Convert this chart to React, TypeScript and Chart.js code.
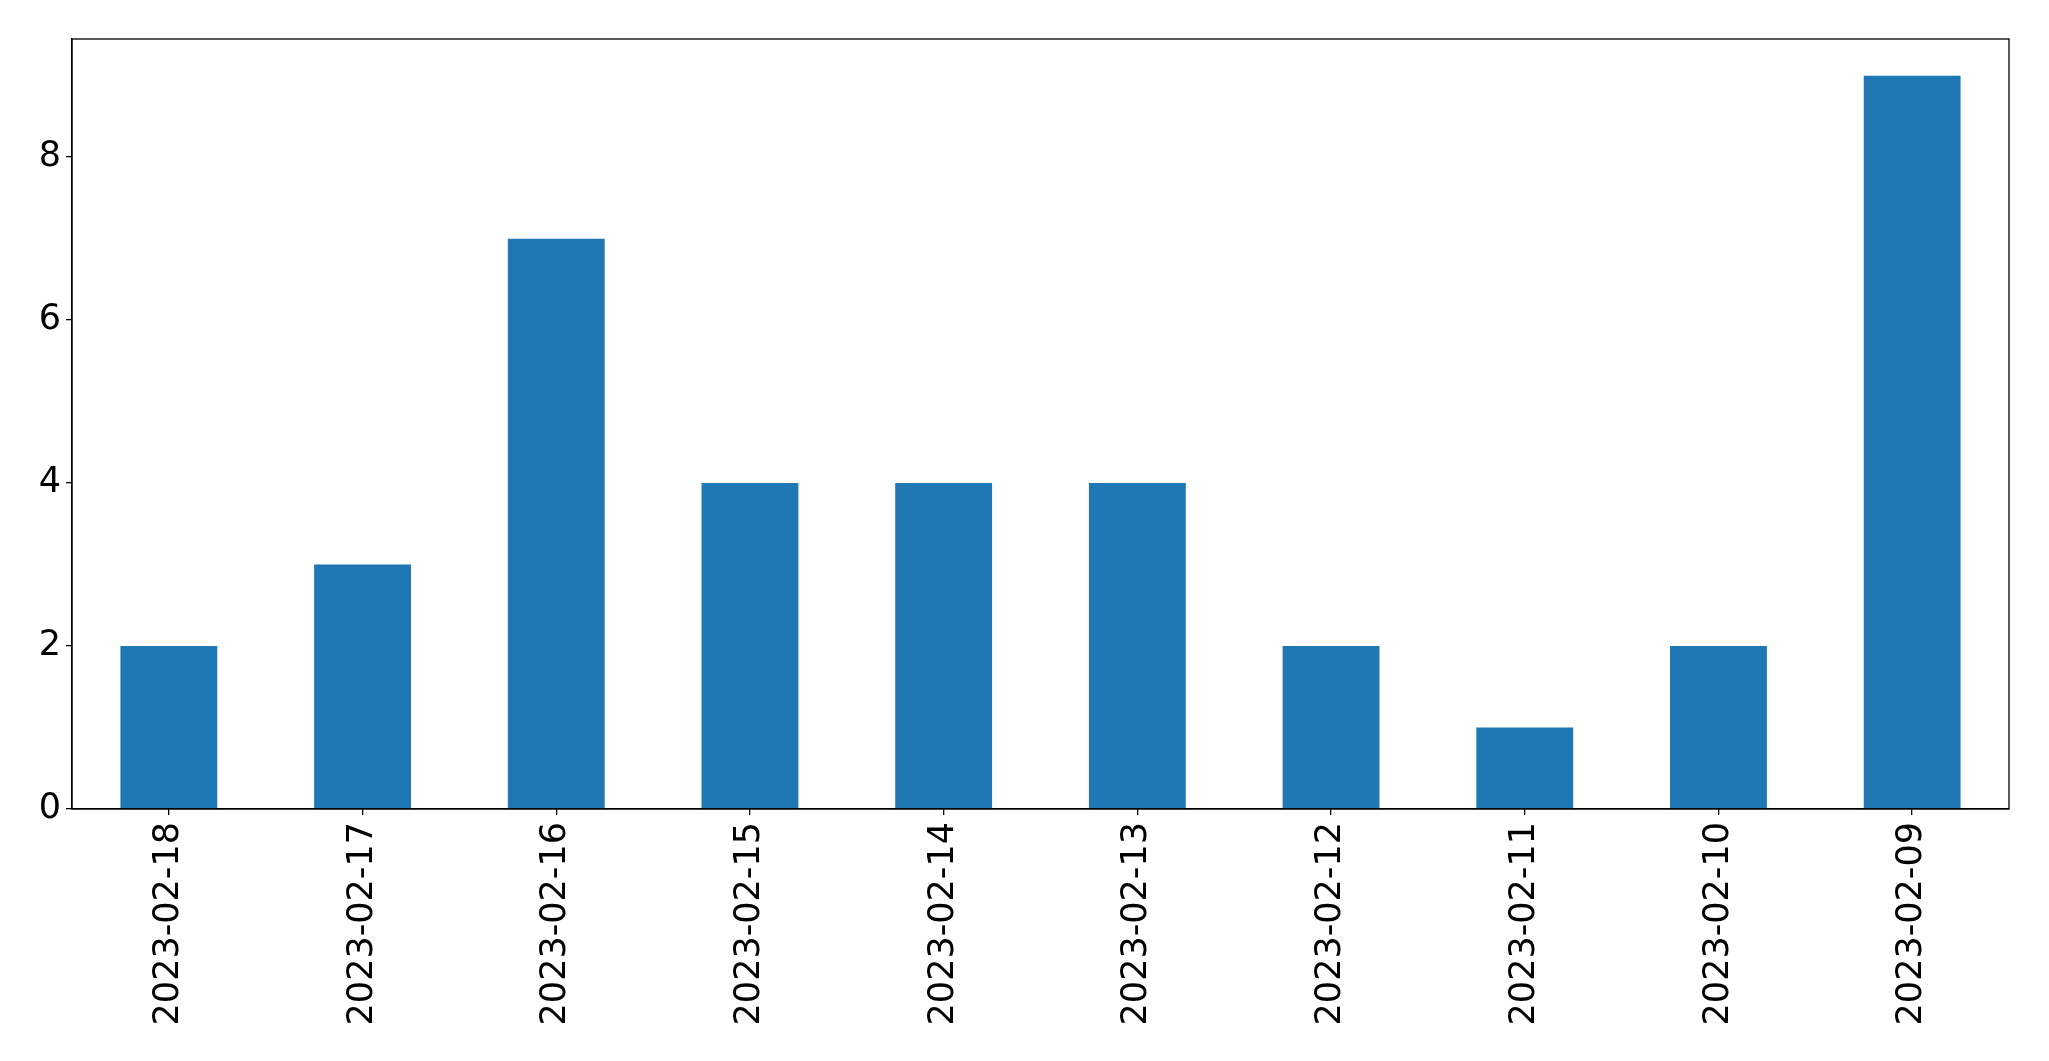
import React, { useEffect, useRef } from "react";
import { Chart, registerables } from "chart.js";

Chart.register(...registerables);

const categories = [
  "2023-02-18",
  "2023-02-17",
  "2023-02-16",
  "2023-02-15",
  "2023-02-14",
  "2023-02-13",
  "2023-02-12",
  "2023-02-11",
  "2023-02-10",
  "2023-02-09",
];
const values = [2, 3, 7, 4, 4, 4, 2, 1, 2, 9];
const yMax = 9.45;
const yStep = 2;

const W = 2049;
const H = 1061;
const PLOT_LEFT = 72;
const PLOT_TOP = 39;
const PLOT_RIGHT = 2009;
const PLOT_BOTTOM = 809;

const framePlugin = {
  id: "frame",
  afterDraw(chart: any) {
    const { ctx, chartArea } = chart;
    ctx.save();
    ctx.strokeStyle = "#000";
    ctx.lineWidth = 1.3;
    ctx.strokeRect(
      chartArea.left,
      chartArea.top,
      chartArea.right - chartArea.left,
      chartArea.bottom - chartArea.top
    );
    ctx.restore();
  },
};

export default function App() {
  const ref = useRef<HTMLCanvasElement | null>(null);
  useEffect(() => {
    document.body.style.margin = "0";
    const canvas = ref.current!;
    const font = { family: "'DejaVu Sans', sans-serif", size: 35 };
    const chart = new Chart(canvas, {
      type: "bar",
      data: {
        labels: categories,
        datasets: [
          {
            data: values,
            backgroundColor: "#1f77b4",
            borderWidth: 0,
            barPercentage: 0.5,
            categoryPercentage: 1.0,
          },
        ],
      },
      options: {
        responsive: false,
        animation: false,
        devicePixelRatio: 1,
        layout: {
          padding: { left: 0, top: PLOT_TOP, right: W - PLOT_RIGHT, bottom: 0 },
        },
        plugins: {
          legend: { display: false },
          tooltip: { enabled: false },
        },
        scales: {
          x: {
            offset: true,
            grid: {
              offset: false,
              drawOnChartArea: false,
              drawTicks: true,
              tickLength: 6,
              color: "#000",
              lineWidth: 1.3,
            },
            border: { display: true, color: "#000", width: 1.3 },
            ticks: {
              color: "#000",
              font,
              minRotation: 90,
              maxRotation: 90,
              padding: 7,
              autoSkip: false,
            },
            afterFit(scale: any) {
              scale.height = H - PLOT_BOTTOM;
            },
          },
          y: {
            min: 0,
            max: yMax,
            grid: {
              drawOnChartArea: false,
              drawTicks: true,
              tickLength: 6,
              color: "#000",
              lineWidth: 1.3,
            },
            border: { display: true, color: "#000", width: 1.3 },
            ticks: {
              stepSize: yStep,
              includeBounds: false,
              color: "#000",
              font,
              padding: 5,
            },
            afterFit(scale: any) {
              scale.width = PLOT_LEFT;
            },
          },
        },
      },
      plugins: [framePlugin],
    });
    return () => chart.destroy();
  }, []);
  return (
    <canvas
      ref={ref}
      width={W}
      height={H}
      style={{ display: "block", width: W, height: H }}
    />
  );
}
